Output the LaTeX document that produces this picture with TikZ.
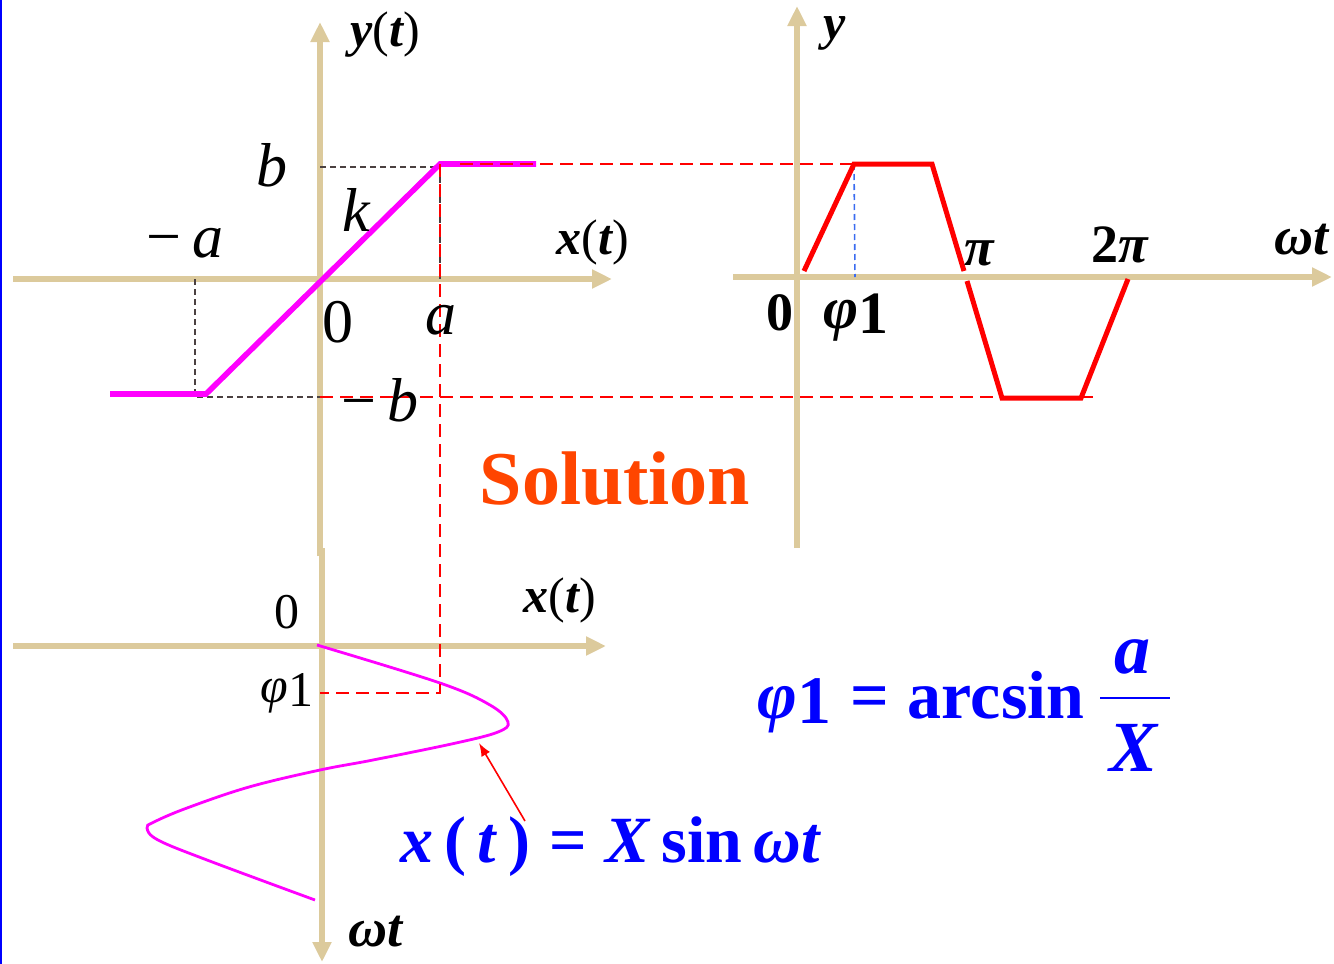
\documentclass[tikz,border=0pt]{standalone}
\usepackage{amsmath,amssymb}
\usepackage{fontspec}
\setmainfont{Liberation Serif}
\usepackage{tikz}
\usetikzlibrary{arrows.meta,positioning,calc}
\definecolor{Sand}{HTML}{DCCA9C}
\definecolor{PinkLine}{HTML}{FF00FF}
\definecolor{PureRed}{HTML}{FF0000}
\definecolor{Flame}{HTML}{FF4500}
\definecolor{PureBlue}{HTML}{0000FF}
\definecolor{DashBlue}{HTML}{3A6BF0}
\definecolor{GreyDash}{HTML}{4A4040}
\newcommand{\phione}{\textit{φ}\raisebox{-0.18ex}{1}}
\newcommand{\fnoft}[1]{\textbf{\textit{#1}}{\mdseries\upshape(}\textbf{\textit{t}}{\mdseries\upshape)}}

\begin{document}
\begin{tikzpicture}[x=0.5pt, y=-0.5pt, >=Latex]
\tikzset{axis/.style={draw=Sand, line width=2.6pt, -{Triangle[width=9pt,length=10pt]}}, satline/.style={draw=PinkLine, line width=2.8pt}, sine/.style={draw=PinkLine, line width=1.4pt}, outline/.style={draw=PureRed, line width=2.5pt}, reddash/.style={draw=PureRed, line width=1.35pt, dash pattern=on 6.5pt off 3.5pt}, greydash/.style={draw=GreyDash, line width=0.6pt, dash pattern=on 3pt off 2pt}, bluedash/.style={draw=DashBlue, line width=0.8pt, dash pattern=on 3pt off 2pt}, lab/.style={inner sep=0pt, font=\fontsize{31}{31}\selectfont}, axlab/.style={inner sep=0pt, font=\fontsize{25}{25}\selectfont\bfseries\itshape}, boldlab/.style={inner sep=0pt, font=\fontsize{27}{27}\selectfont\bfseries}, formula/.style={inner sep=0pt, text=PureBlue, font=\fontsize{33}{33}\selectfont\bfseries}}
\useasboundingbox (0,0) rectangle (1334,964);
\draw[draw=PureBlue, line width=1pt] (1,0) -- (1,964);
% characteristic y(t) against x(t)
\coordinate (yaxB) at (320,556);
\coordinate (yaxT) at (320,22);
\coordinate (xaxL) at (13,279);
\coordinate (xaxR) at (612,279);
\draw[axis] (yaxB) -- (yaxT);
\draw[axis] (xaxL) -- (xaxR);
\coordinate (satL) at (110,394);
\coordinate (kneeL) at (206,394);
\coordinate (kneeR) at (440,164);
\coordinate (satR) at (536,164);
\draw[greydash] (320,167) -- (440,167) -- (440,279);
\draw[greydash] (195,279) -- (195,397) -- (320,397);
\draw[satline] (satL) -- (kneeL) -- (kneeR) -- (satR);
% response y against wt
\coordinate (wyB) at (797,548);
\coordinate (wyT) at (797,6);
\coordinate (wxL) at (733,277);
\coordinate (wxR) at (1332,277);
\draw[axis] (wyB) -- (wyT);
\draw[axis] (wxL) -- (wxR);
\coordinate (p0) at (804,271);
\coordinate (p1) at (854,164);
\coordinate (p2) at (932,164);
\coordinate (p3) at (964,271);
\coordinate (q0) at (967,281);
\coordinate (q1) at (1002,398);
\coordinate (q2) at (1081,398);
\coordinate (q3) at (1128,279);
\draw[bluedash] (p1) -- (855,277);
\draw[outline] (p0) -- (p1) -- (p2) -- (p3);
\draw[outline] (q0) -- (q1) -- (q2) -- (q3);
% input x(t) against wt
\coordinate (lxL) at (13,646);
\coordinate (lxR) at (606,646);
\coordinate (lyT) at (322,548);
\coordinate (lyB) at (322,962);
\draw[axis] (lxL) -- (lxR);
\draw[axis] (lyT) -- (lyB);
\draw[sine] plot[smooth, tension=0.6] coordinates {(317,645) (440,683) (490,705) (508,722) (498,732) (456,743) (373,760) (320,770) (249,787) (187,808) (154,822) (147,828) (158,840) (207,860) (315,900)};
\coordinate (phiL) at (320,693);
\coordinate (phiR) at (440,693);
\draw[reddash] (460,164) -- (p1);
\draw[reddash] (320,397) -- (1099,397);
\draw[reddash] (kneeR) -- (phiR) -- (phiL);
% labels
\node[axlab] (ylab) at (385,35) {\fnoft{y}};
\node[axlab] (xlab) at (593,242) {\fnoft{x}};
\node[lab] (blab) at (272,165) {\textit{b}};
\node[lab] (klab) at (357,210) {\textit{k}};
\node[lab] (malab) at (185,243) {−\,\textit{a}};
\node[lab] (olab) at (338,322) {0};
\node[lab] (alab) at (441,320) {\textit{a}};
\node[lab] (mblab) at (380,400) {−\,\textit{b}};
\node[axlab] (wylab) at (835,33) {y};
\node[boldlab] (wolab) at (780,313) {0};
\node[boldlab, font=\fontsize{30}{30}\selectfont\bfseries] (wphilab) at (856,318) {\phione};
\node[boldlab] (pilab) at (980,253) {\textit{π}};
\node[boldlab] (tpilab) at (1120,245) {2\textit{π}};
\node[boldlab] (wtlab) at (1302,240) {\textit{ωt}};
\node[inner sep=0pt, text=Flame, font=\fontsize{38}{38}\selectfont\bfseries] (sol) at (615,479) {Solution};
\node[lab, font=\fontsize{25}{25}\selectfont] (lolab) at (287,612) {0};
\node[axlab] (lxlab) at (560,600) {\fnoft{x}};
\node[boldlab, font=\fontsize{25}{25}\selectfont] (lphilab) at (287,693) {\phione};
\node[boldlab] (lwtlab) at (376,932) {\textit{ωt}};
\node[formula] (xform) at (611,847) {\textit{x}\,(\,\textit{t}\,)\;=\;\textit{X}\,sin\,\textit{ωt}};
\node[formula, font=\fontsize{34}{34}\selectfont\bfseries] (phiform) at (921,702) {\phione\;=\;arcsin};
\coordinate (barL) at (1100,698);
\coordinate (barR) at (1170,698);
\draw[draw=PureBlue, line width=1.3pt] (barL) -- (barR);
\node[formula, font=\fontsize{36}{36}\selectfont\bfseries\itshape] (numer) at (1132,657) {a};
\node[formula, font=\fontsize{36}{36}\selectfont\bfseries\itshape] (denom) at (1133,748) {X};
\draw[->, draw=PureRed, line width=0.8pt] (525,821) -- (479,743);
\end{tikzpicture}
\end{document}
